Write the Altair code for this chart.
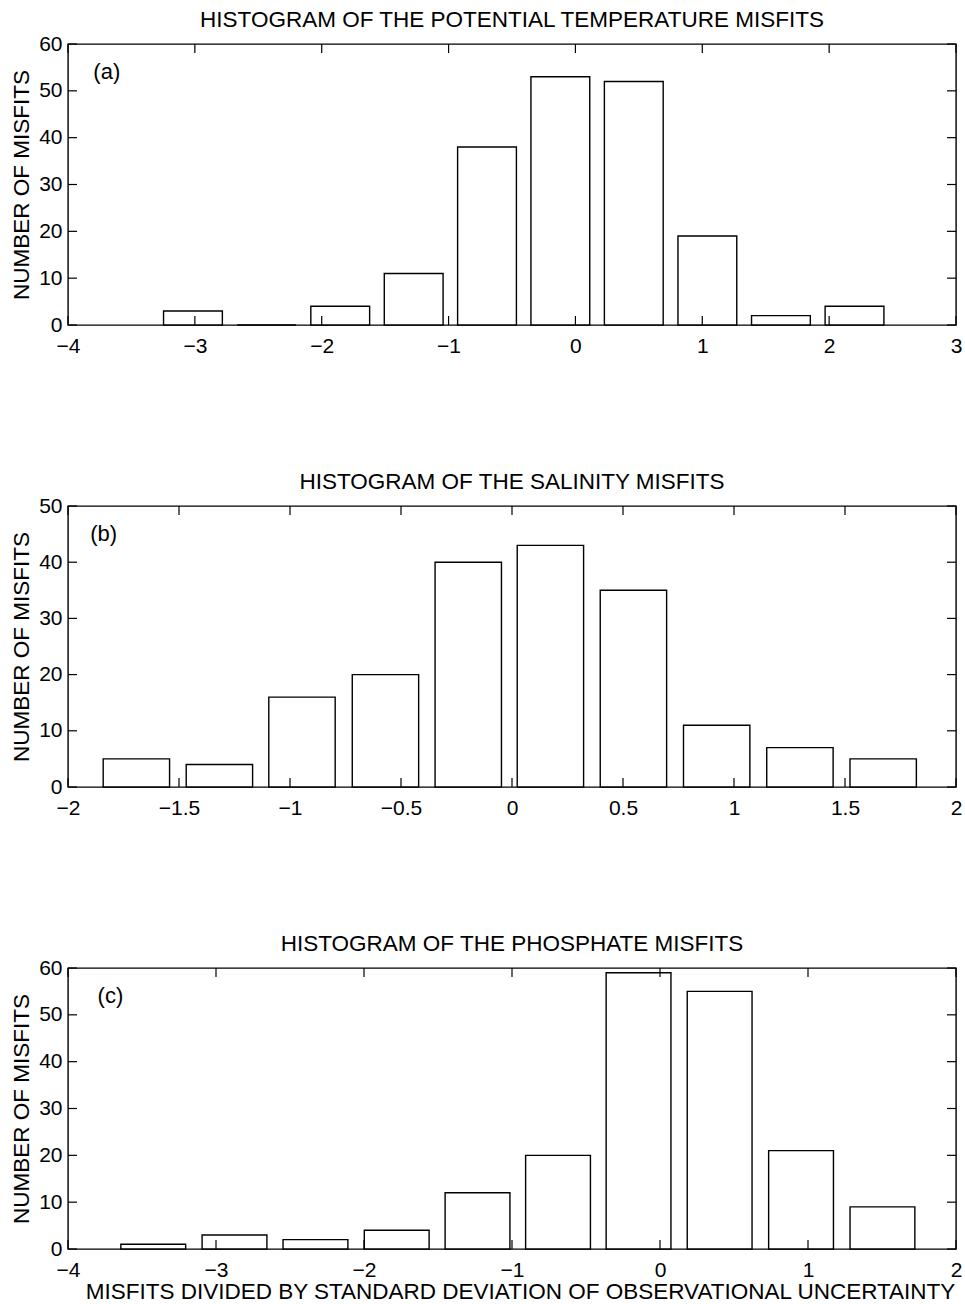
import altair as alt
import pandas as pd

# Histogram bin centres and counts for each tracer
temp_centers = [-3.015, -2.435, -1.854, -1.275, -0.697, -0.119, 0.460, 1.040, 1.620, 2.200]
temp_counts = [3, 0, 4, 11, 38, 53, 52, 19, 2, 4]

sal_centers = [-1.692, -1.318, -0.946, -0.570, -0.197, 0.173, 0.547, 0.922, 1.297, 1.672]
sal_counts = [5, 4, 16, 20, 40, 43, 35, 11, 7, 5]

phos_centers = [-3.424, -2.875, -2.328, -1.779, -1.233, -0.689, -0.145, 0.403, 0.953, 1.503]
phos_counts = [1, 3, 2, 4, 12, 20, 59, 55, 21, 9]

# Axis ticks
temp_xticks = [-4, -3, -2, -1, 0, 1, 2, 3]
sal_xticks = [-2, -1.5, -1, -0.5, 0, 0.5, 1, 1.5, 2]
phos_xticks = [-4, -3, -2, -1, 0, 1, 2]
yticks_60 = [0, 10, 20, 30, 40, 50, 60]
yticks_50 = [0, 10, 20, 30, 40, 50]

FONT = "Liberation Sans"
W, H = 888, 281
TICK = 9
BAR_FRACTION = 0.8
LABEL_SIZE = 21
TITLE_SIZE = 22.5


def panel(title, tag, tag_xy, centers, counts, xticks, yticks, xtitle=None):
    step = (centers[-1] - centers[0]) / (len(centers) - 1)
    half = BAR_FRACTION * step / 2
    bars = pd.DataFrame({
        "lo": [c - half for c in centers],
        "hi": [c + half for c in centers],
        "n": counts,
        "zero": [0] * len(counts),
    })
    xs = alt.Scale(domain=[xticks[0], xticks[-1]], nice=False, zero=False)
    ys = alt.Scale(domain=[yticks[0], yticks[-1]], nice=False, zero=False)

    xaxis_kw = dict(values=xticks, format="~f", ticks=False, domain=False, grid=False,
                    labelFontSize=LABEL_SIZE, labelFont=FONT, labelColor="black",
                    labelPadding=10, labelFlush=False)
    if xtitle:
        xaxis = alt.Axis(title=xtitle, titleFontSize=TITLE_SIZE, titleFont=FONT,
                         titleFontWeight="normal", titleColor="black", titlePadding=0,
                         titleX=452, titleAlign="center", **xaxis_kw)
    else:
        xaxis = alt.Axis(title=None, **xaxis_kw)
    yaxis = alt.Axis(values=yticks, format="~f", ticks=False, domain=False, grid=False,
                     labelFontSize=LABEL_SIZE, labelFont=FONT, labelColor="black",
                     labelPadding=6, labelFlush=False,
                     title="NUMBER OF MISFITS", titleFontSize=TITLE_SIZE, titleFont=FONT,
                     titleFontWeight="normal", titleColor="black", titlePadding=5)

    rects = alt.Chart(bars).mark_rect(fill="white", stroke="black", strokeWidth=1.4).encode(
        x=alt.X("lo:Q", scale=xs, axis=xaxis),
        x2="hi:Q",
        y=alt.Y("n:Q", scale=ys, axis=yaxis),
        y2="zero:Q",
    )

    xt = pd.DataFrame({"v": xticks})
    yt = pd.DataFrame({"v": yticks})
    rule = dict(color="black", strokeWidth=1.2)
    bottom = alt.Chart(xt).mark_rule(**rule).encode(
        x=alt.X("v:Q", scale=xs), y=alt.value(H), y2=alt.value(H - TICK))
    top = alt.Chart(xt).mark_rule(**rule).encode(
        x=alt.X("v:Q", scale=xs), y=alt.value(0), y2=alt.value(TICK))
    left = alt.Chart(yt).mark_rule(**rule).encode(
        y=alt.Y("v:Q", scale=ys), x=alt.value(0), x2=alt.value(TICK))
    right = alt.Chart(yt).mark_rule(**rule).encode(
        y=alt.Y("v:Q", scale=ys), x=alt.value(W), x2=alt.value(W - TICK))

    lab = alt.Chart(pd.DataFrame({"x": [tag_xy[0]], "y": [tag_xy[1]], "t": [tag]})).mark_text(
        align="left", baseline="middle", fontSize=22, font=FONT, color="black"
    ).encode(x=alt.X("x:Q", scale=xs), y=alt.Y("y:Q", scale=ys), text="t:N")

    return alt.layer(rects, bottom, top, left, right, lab).properties(
        width=W, height=H,
        title=alt.TitleParams(title, fontSize=TITLE_SIZE, font=FONT, fontWeight="normal",
                              color="black", anchor="middle", offset=1.5),
    )


a = panel("HISTOGRAM OF THE POTENTIAL TEMPERATURE MISFITS", "(a)", (-3.8, 54),
          temp_centers, temp_counts, temp_xticks, yticks_60)
b = panel("HISTOGRAM OF THE SALINITY MISFITS", "(b)", (-1.9, 45),
          sal_centers, sal_counts, sal_xticks, yticks_50)
c = panel("HISTOGRAM OF THE PHOSPHATE MISFITS", "(c)", (-3.8, 54),
          phos_centers, phos_counts, phos_xticks, yticks_60,
          xtitle="MISFITS DIVIDED BY STANDARD DEVIATION OF OBSERVATIONAL UNCERTAINTY")

chart = alt.vconcat(a, b, c, spacing=181, bounds="flush").properties(
    padding={"left": 9, "top": 8, "right": 0, "bottom": 0},
    background="white",
).configure_view(stroke="black", strokeWidth=1.4)

chart.save("out.html", embed_options={"renderer": "svg", "actions": False})
